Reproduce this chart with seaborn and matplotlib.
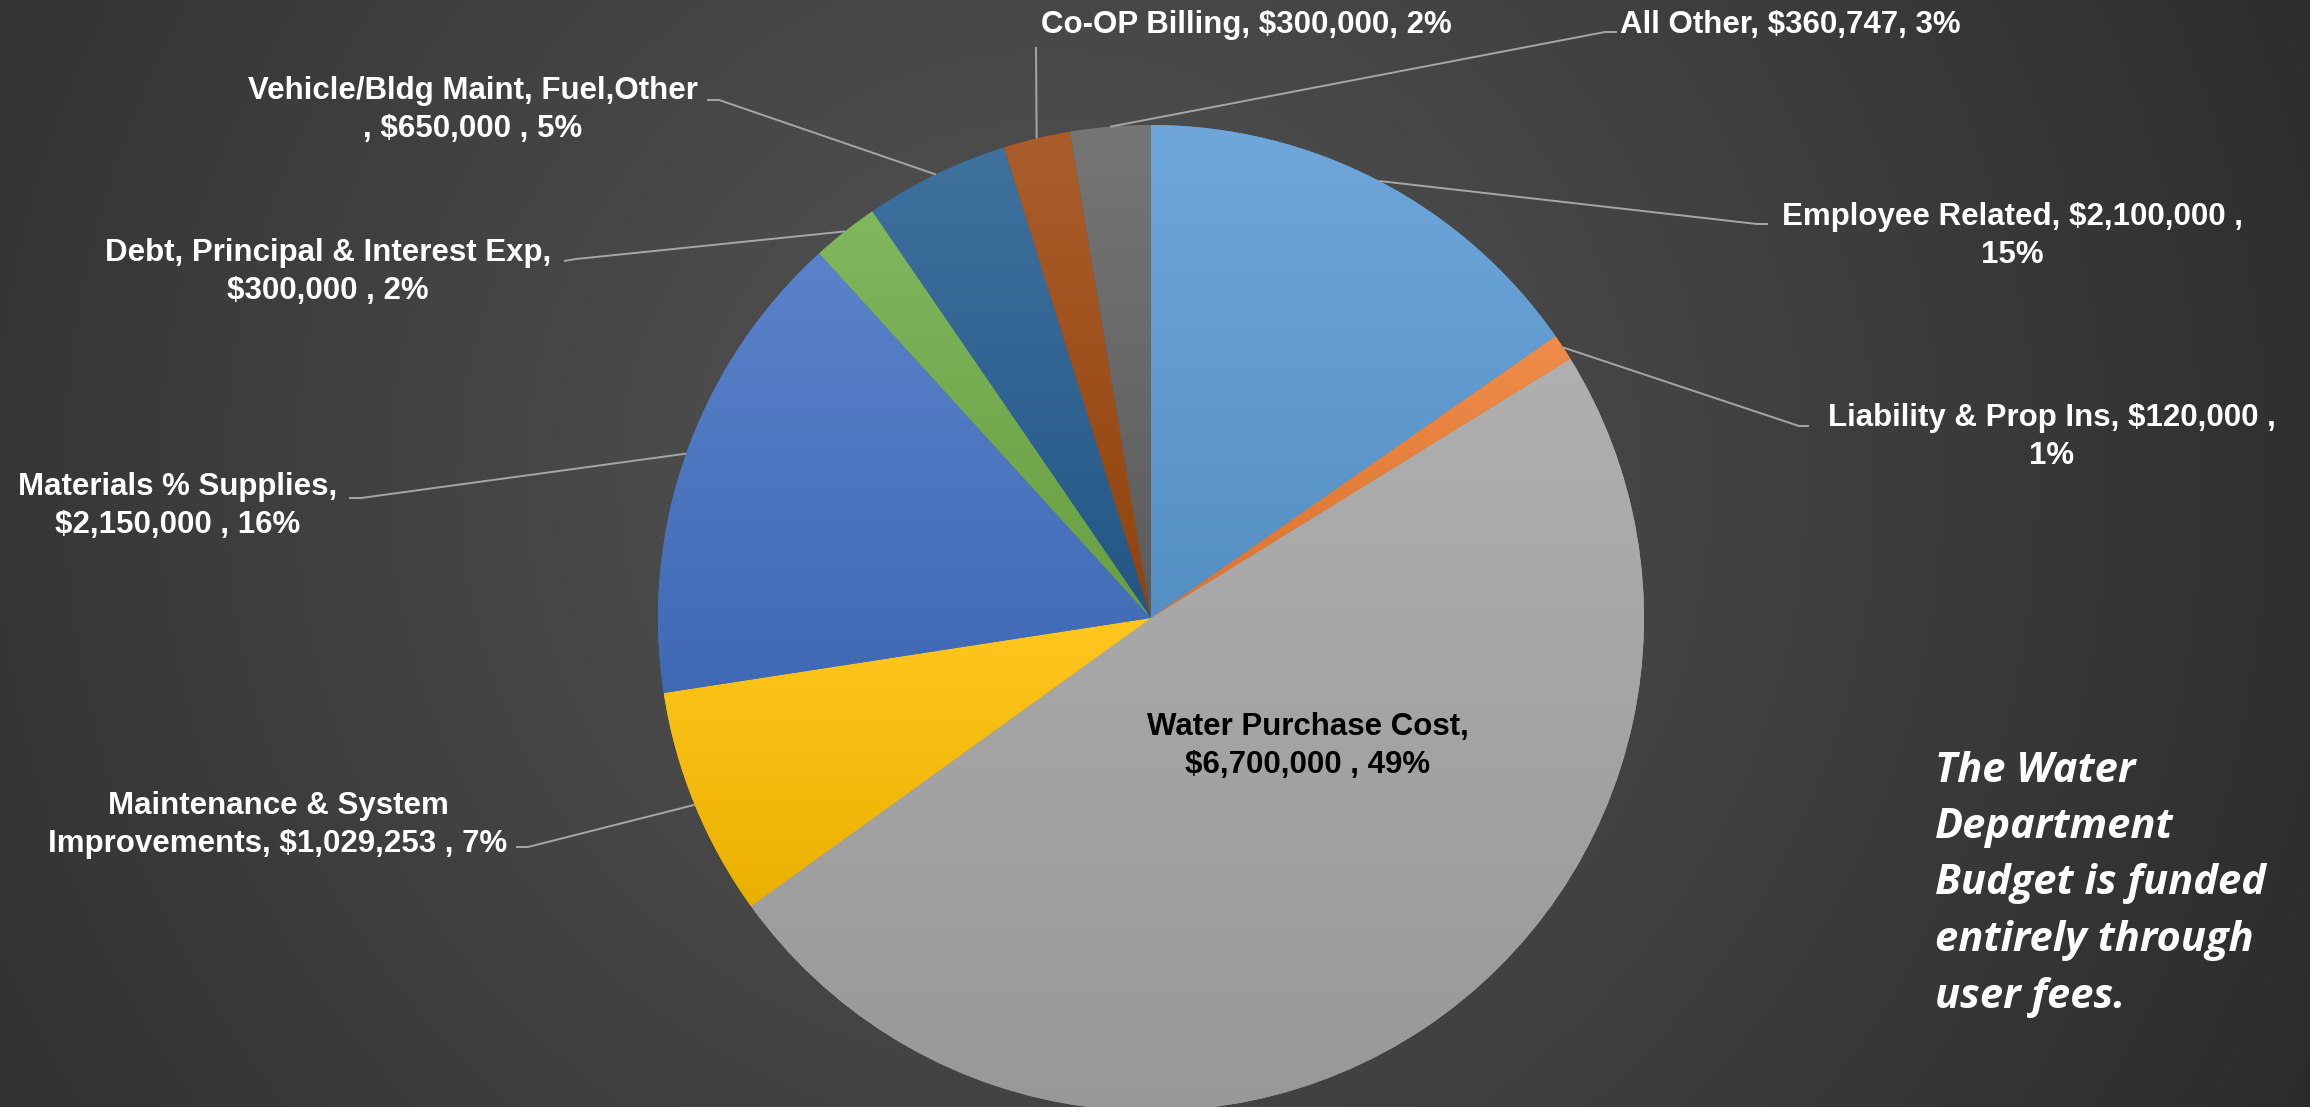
import numpy as np
import matplotlib
matplotlib.use("Agg")
import matplotlib.pyplot as plt
import seaborn as sns
from matplotlib.colors import to_rgb

# ---------------- data ----------------
categories = ["Employee Related", "Liability & Prop Ins", "Water Purchase Cost",
              "Maintenance & System Improvements", "Materials % Supplies",
              "Debt, Principal & Interest Exp", "Vehicle/Bldg Maint, Fuel,Other",
              "Co-OP Billing", "All Other"]
values = [2100000, 120000, 6700000, 1029253, 2150000, 300000, 650000, 300000, 360747]
pct_labels = ["15%", "1%", "49%", "7%", "16%", "2%", "5%", "2%", "3%"]
label_texts = [
    "Employee Related, $2,100,000 ,\n15%",
    "Liability & Prop Ins, $120,000 ,\n1%",
    "Water Purchase Cost,\n$6,700,000 , 49%",
    "Maintenance & System\nImprovements, $1,029,253 , 7%",
    "Materials % Supplies,\n$2,150,000 , 16%",
    "Debt, Principal & Interest Exp,\n$300,000 , 2%",
    "Vehicle/Bldg Maint, Fuel,Other\n, $650,000 , 5%",
    "Co-OP Billing, $300,000, 2%",
    "All Other, $360,747, 3%",
]
slice_colors = ["#5B9BD5", "#ED7D31", "#A5A5A5", "#FFC000", "#4472C4",
                "#70AD47", "#255E91", "#9E480E", "#636363"]
side_note = "The Water\nDepartment\nBudget is funded\nentirely through\nuser fees."

# ---------------- layout (pixel coordinates, y from top) ----------------
W, H = 2310, 1107
CX, CY, R = 1151, 618, 493
# text anchor (x, y, ha), leader elbow points
label_layout = [
    (2012, 236, "center", [(1768, 224), (1757, 224)]),
    (2052, 437, "center", [(1809, 426), (1799, 426)]),
    (1308, 746, "center", None),
    (278, 825, "center", [(516, 847), (528, 847)]),
    (178, 506, "center", [(349, 498), (361, 498)]),
    (328, 272, "center", [(564, 261), (576, 259)]),
    (473, 110, "center", [(707, 100), (719, 100)]),
    (1041, 25, "left", [(1036, 47)]),
    (1620, 25, "left", [(1617, 32), (1605, 32)]),
]

sns.set_theme(style="white")
palette = sns.color_palette(slice_colors)
plt.rcParams["font.family"] = ["Liberation Sans", "DejaVu Sans"]

fig = plt.figure(figsize=(W / 100, H / 100), dpi=100)

# background radial gradient
bg_ax = fig.add_axes([0, 0, 1, 1], zorder=0)
yy, xx = np.mgrid[0:H, 0:W]
d = np.sqrt((xx - 1050) ** 2 + (yy - 480) ** 2) / 1450.0
d = np.clip(d, 0, 1)
c_in, c_out = 0x56 / 255, 0x2a / 255
g = c_in + (c_out - c_in) * d
bg = np.dstack([g, g, g])
bg_ax.imshow(bg, extent=(0, W, 0, H), origin="upper", aspect="auto")
bg_ax.set_axis_off()

ax = fig.add_axes([0, 0, 1, 1], zorder=1)
ax.set_facecolor("none")

wedges, _ = ax.pie(values, colors=palette, startangle=90, counterclock=False,
                   center=(CX, H - CY), radius=R,
                   wedgeprops=dict(linewidth=0, zorder=1))

# subtle vertical gradient inside each slice
for w, c in zip(wedges, palette):
    verts = w.get_path().vertices
    x0, y0 = verts.min(axis=0)
    x1, y1 = verts.max(axis=0)
    base = np.array(to_rgb(c))
    top = base + (1 - base) * 0.12
    bot = base * 0.92
    t = np.linspace(0, 1, 256)[:, None]
    grad = (top * (1 - t) + bot * t)[:, None, :]
    im = ax.imshow(grad, extent=(x0, x1, y0, y1), origin="upper", aspect="auto",
                   zorder=2, interpolation="bilinear")
    im.set_clip_path(w)

# labels and leader lines
cum = np.cumsum([0] + values[:-1])
total = float(sum(values))
for i, (txt, lay) in enumerate(zip(label_texts, label_layout)):
    x, y, ha, elbow = lay
    color = "black" if elbow is None else "white"
    ax.text(x, H - y, txt, ha=ha, va="center", multialignment="center",
            fontsize=22.5, fontweight="bold", color=color, zorder=5,
            linespacing=1.32)
    if elbow is not None:
        mid = (cum[i] + values[i] / 2) / total * 2 * np.pi
        px = CX + R * np.sin(mid)
        py = H - (CY - R * np.cos(mid))
        xs = [e[0] for e in elbow] + [px]
        ys = [H - e[1] for e in elbow] + [py]
        ax.plot(xs, ys, color="#a6a6a6", lw=1.4, zorder=4, solid_capstyle="butt")

ax.text(1935, H - 884, side_note, ha="left", va="center", fontsize=30,
        fontweight="bold", fontstyle="italic", color="white", linespacing=1.5,
        family=["Open Sans", "DejaVu Sans"], zorder=5)

ax.set_xlim(0, W)
ax.set_ylim(0, H)
ax.set_aspect("equal")
ax.set_axis_off()

fig.savefig("out.png", dpi=100)
